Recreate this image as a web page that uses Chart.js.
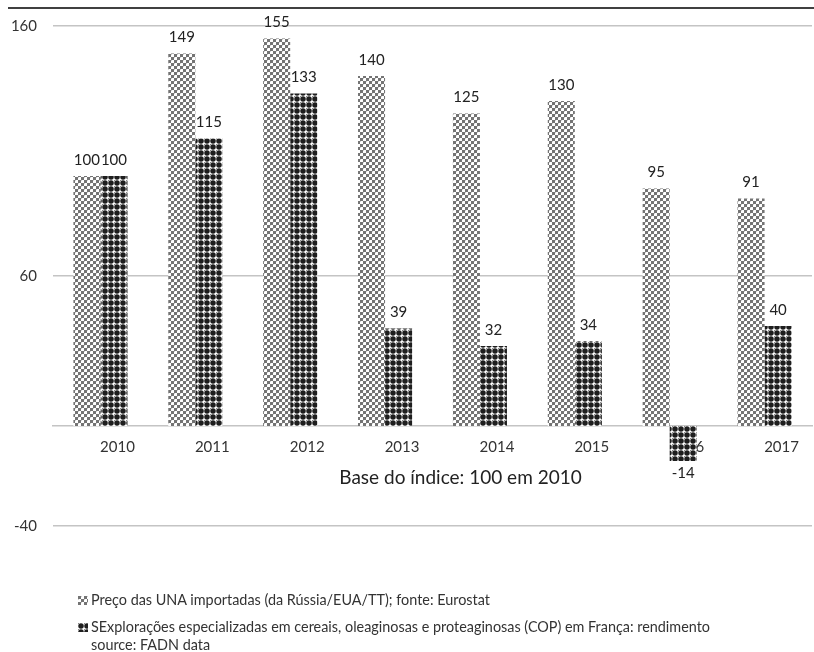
<!DOCTYPE html>
<html><head><meta charset="utf-8">
<script src="https://cdn.jsdelivr.net/npm/chart.js@4.4.1/dist/chart.umd.min.js"></script>
<style>
body{margin:0;background:#fff;}
#wrap{position:relative;width:814px;height:652px;overflow:hidden;font-family:Lato, "Open Sans", sans-serif;background:#fff;}
#topline{position:absolute;left:8px;right:0;top:7px;height:0;border-top:2px solid #404040;}
#c{position:absolute;left:0;top:0;}
#legend{position:absolute;left:78px;top:591px;font-size:14.4px;color:#333;line-height:18px;}
.item{display:flex;align-items:flex-start;}
.item + .item{margin-top:9px;}
.sw{width:10px;height:9px;margin-top:5px;margin-right:3px;flex:none;}
.txt{white-space:pre-line;}
</style></head>
<body>
<div id="wrap">
  <div id="topline"></div>
  <canvas id="c" width="814" height="560"></canvas>
  <div id="legend"></div>
</div>
<script>
const categories = ['2010','2011','2012','2013','2014','2015','2016','2017'];
const importPrice = [100,149,155,140,125,130,95,91];
const copIncome = [100,115,133,39,32,34,-14,40];
const yTicks = [-40,60,160];
const seriesLabels = [
  'Preço das UNA importadas (da Rússia/EUA/TT); fonte: Eurostat',
  'SExplorações especializadas em cereais, oleaginosas e proteaginosas (COP) em França: rendimento\nsource: FADN data'
];
const axisTitle = 'Base do índice: 100 em 2010';

function makeLightTile(){
  const t=document.createElement('canvas');t.width=6;t.height=6;
  const g=t.getContext('2d');
  g.fillStyle='#fff';g.fillRect(0,0,6,6);
  g.fillStyle='#747474';
  g.fillRect(0,0,3,3);g.fillRect(3,3,3,3);
  g.fillStyle='#cfcfcf';
  g.fillRect(3,0,1,1);g.fillRect(0,3,1,1);
  return t;
}
function makeDarkTile(){
  const t=document.createElement('canvas');t.width=6;t.height=6;
  const g=t.getContext('2d');
  g.fillStyle='#fff';g.fillRect(0,0,6,6);
  g.fillStyle='#1e1e1e';
  g.beginPath();g.arc(3,3,2.75,0,Math.PI*2);g.fill();
  g.fillStyle='#888';
  g.fillRect(0,0,1,1);
  return t;
}
const ctx=document.getElementById('c').getContext('2d');
const lightPat=ctx.createPattern(makeLightTile(),'repeat');
const darkPat=ctx.createPattern(makeDarkTile(),'repeat');

const valueLabels={
  id:'valueLabels',
  afterDatasetsDraw(chart){
    const c=chart.ctx;
    c.save();
    c.font='15px Lato, sans-serif';
    c.fillStyle='#222';
    c.textAlign='center';
    c.textBaseline='middle';
    chart.data.datasets.forEach((ds,i)=>{
      const meta=chart.getDatasetMeta(i);
      meta.data.forEach((el,j)=>{
        const v=ds.data[j];
        const y=v>=0? el.y-16 : el.y+12;
        c.fillText(String(v),el.x,y);
      });
    });
    c.restore();
  }
};
const xTitle={
  id:'xTitle',
  afterDraw(chart){
    const c=chart.ctx, a=chart.chartArea, ys=chart.scales.y;
    c.save();
    c.font='19px Lato, sans-serif';
    c.fillStyle='#222';
    c.textAlign='center';c.textBaseline='middle';
    c.fillText(axisTitle,(a.left+a.right)/2+28,ys.getPixelForValue(0)+52);
    c.restore();
  }
};

new Chart(ctx,{
  type:'bar',
  data:{
    labels:categories,
    datasets:[
      {label:seriesLabels[0],data:importPrice,backgroundColor:lightPat,borderWidth:0},
      {label:seriesLabels[1],data:copIncome,backgroundColor:darkPat,borderWidth:0}
    ]
  },
  options:{
    responsive:false,
    animation:false,
    layout:{padding:{top:26,left:8,right:2,bottom:34}},
    datasets:{bar:{categoryPercentage:0.57,barPercentage:1}},
    plugins:{legend:{display:false},tooltip:{enabled:false},title:{display:false}},
    scales:{
      x:{
        position:{y:0},
        grid:{display:false,drawTicks:false},
        border:{display:true,color:'#c4c4c4',width:1.5},
        ticks:{font:{family:'Lato',size:15},color:'#333',padding:12,labelOffset:17,maxRotation:0}
      },
      y:{
        min:-40,max:160,
        afterBuildTicks(s){s.ticks=yTicks.map(v=>({value:v}));},
        afterFit(s){s.width=45;},
        grid:{color:'#c4c4c4',lineWidth:1.5,drawTicks:false},
        border:{display:false},
        ticks:{font:{family:'Lato',size:15},color:'#333',padding:16}
      }
    }
  },
  plugins:[valueLabels,xTitle]
});

const leg=document.getElementById('legend');
seriesLabels.forEach((lab,i)=>{
  const it=document.createElement('div');it.className='item';
  const sw=document.createElement('canvas');sw.className='sw';sw.width=10;sw.height=9;
  const g=sw.getContext('2d');g.fillStyle=g.createPattern(i===0?makeLightTile():makeDarkTile(),'repeat');g.fillRect(0,0,10,9);
  const tx=document.createElement('span');tx.className='txt';tx.textContent=lab;
  it.appendChild(sw);it.appendChild(tx);leg.appendChild(it);
});
</script>
</body></html>
